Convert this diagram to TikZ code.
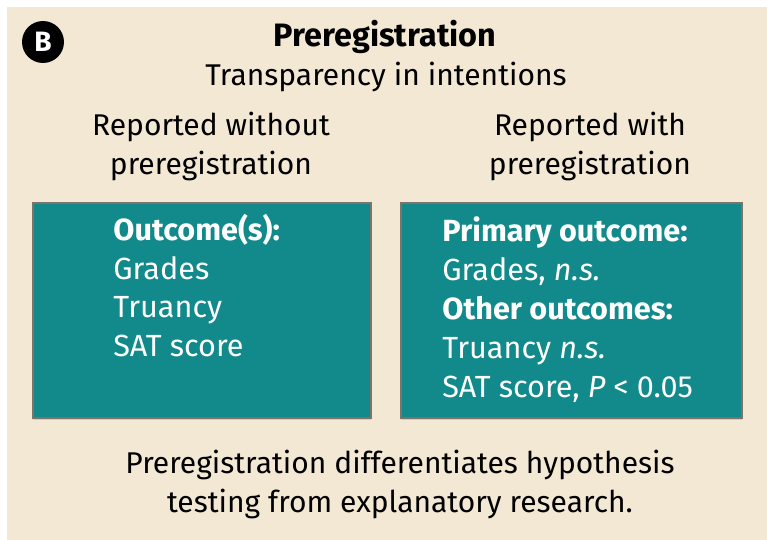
\documentclass[tikz,border=0pt]{standalone}
\usepackage{fontspec}
\setmainfont{Fira Sans}
\usetikzlibrary{positioning, shadows}
\definecolor{paneltan}{HTML}{F3E8D4}
\definecolor{boxteal}{HTML}{128A8C}
\definecolor{boxedge}{HTML}{7E7368}

\begin{document}
\begin{tikzpicture}[x=0.5pt, y=-0.5pt, node distance=10pt]
\tikzstyle{txt} = [inner sep=0pt, font=\fontsize{15}{19.5}\selectfont]
\tikzstyle{outbox} = [rectangle, draw=boxedge, line width=1pt, fill=boxteal, inner sep=0pt, drop shadow={shadow xshift=0pt, shadow yshift=-1pt, opacity=0.25}]
\tikzstyle{outtext} = [txt, text=white, align=left, anchor=base west, font=\fontsize{15.3}{19.5}\selectfont]

% panel
\fill[white] (0,0) rectangle (767,540);
\fill[paneltan] (7,7) rectangle (767,540);
\useasboundingbox (0,0) rectangle (767,540);

\node (badge) [circle, fill=black, minimum size=21pt, inner sep=0pt, text=white, font=\fontsize{14}{14}\selectfont\bfseries] at (43,42) {B};

\node (title) [txt, anchor=base, font=\fontsize{16.2}{19.5}\selectfont\bfseries] at (385,47) {Preregistration};
\node (subtitle) [txt, anchor=base] at (386,86) {Transparency in intentions};

% base of a multi-line node is its last line
\node (without) [txt, anchor=base, align=center] at (211,175) {Reported without\\preregistration};
\node (with) [txt, anchor=base, align=center] at (590,175) {Reported with\\preregistration};

% outcome boxes
\node (leftbox) [outbox, minimum width=169pt, minimum height=107.5pt] at (202,310.5) {};
\node (rightbox) [outbox, minimum width=170.5pt, minimum height=107.5pt] at (571.5,310.5) {};

\node (lefttext) [outtext] at (113,357) {\textbf{Outcome(s):}\\Grades\\Truancy\\SAT score};
\node (righttext) [outtext] at (442,397) {\textbf{Primary outcome:}\\Grades, \textit{n.s.}\\\textbf{Other outcomes:}\\Truancy \textit{n.s.}\\SAT score, \textit{P} < 0.05};

\node (summary) [txt, anchor=base, align=center] at (400,512) {Preregistration differentiates hypothesis\\testing from explanatory research.};

\end{tikzpicture}
\end{document}
